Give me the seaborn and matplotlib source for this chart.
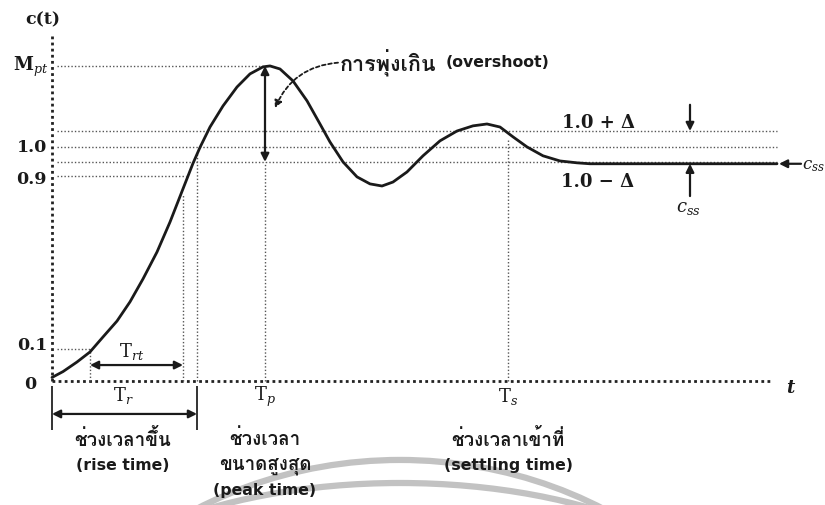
import matplotlib
matplotlib.use("Agg")
import matplotlib.pyplot as plt
from matplotlib import font_manager as fm
from matplotlib.ft2font import FT2Font
from matplotlib.patches import Arc
import seaborn as sns

# ---------------- data ----------------
# time axis in arbitrary units, response c(t) in drawing units (1.0 = "1.0" level)
t_curve = [0, 1.1, 2.5, 3.8, 5.1, 6.5, 7.8, 9.1, 10.5, 11.8, 13.1, 14.1, 14.8,
           15.8, 17.1, 18.5, 19.8, 21.1, 21.8, 22.8, 24.1, 25.5, 26.8, 27.8,
           29.1, 30.5, 31.8, 33.0, 34.1, 35.5, 37.1, 38.8, 40.5, 42.1, 43.5,
           44.8, 46.1, 47.5, 49.1, 50.8, 52.5, 53.8, 72.5]
c_curve = [0.015, 0.040, 0.081, 0.124, 0.188, 0.256, 0.338, 0.436, 0.551, 0.679,
           0.821, 0.930, 0.998, 1.085, 1.175, 1.256, 1.312, 1.342, 1.346, 1.333,
           1.282, 1.197, 1.098, 1.021, 0.936, 0.872, 0.842, 0.833, 0.850, 0.893,
           0.962, 1.026, 1.068, 1.090, 1.098, 1.085, 1.043, 1.0, 0.962, 0.940,
           0.932, 0.928, 0.928]

level_labels = ["0.1", "0.9", "1.0"]
level_values = [0.137, 0.876, 1.0]
m_pt = 1.346             # maximum (peak) value
band_upper = 1.068       # 1.0 + Δ
band_lower = 0.936       # 1.0 - Δ
c_ss = 0.928             # steady-state value

t_01 = 3.8     # crossing of 0.1
t_09 = 13.1    # crossing of 0.9 (end of T_rt)
t_r = 14.5     # rise time
t_p = 21.3     # peak time
t_s = 45.6     # settling time
t_end = 72.5   # end of band lines
t_axis_end = 71.8
y_axis_top = 1.474

# ---------------- fonts ----------------
thai_regular, thai_bold = None, None
for f in fm.fontManager.ttflist:
    try:
        if 0x0E01 in FT2Font(f.fname).get_charmap():
            w = f.weight if isinstance(f.weight, int) else 400
            if w >= 600 and thai_bold is None:
                thai_bold = f.name
            if thai_regular is None:
                thai_regular = f.name
    except Exception:
        pass
thai_family = thai_bold or thai_regular
sns.set_theme(style="white")
plt.rcParams["mathtext.fontset"] = "dejavuserif"
thai_fam = ["DejaVu Sans", thai_family] if thai_family else ["DejaVu Sans"]
serif = "DejaVu Serif"
ink = "#1a1a1a"

# ---------------- figure ----------------
fig = plt.figure(figsize=(8.25, 5.06), dpi=100)
ax = fig.add_axes([0, 0, 1, 1])
ax.set_xlim(-5.2, 77.3)
ax.set_ylim(-0.530, 1.632)
ax.axis("off")

dot = dict(color="#555555", lw=1.0, ls=(0, (1, 1.5)))
axis_dot = dict(color="#222222", lw=2.0, ls=(0, (1, 1.2)))

# faint watermark arcs at the bottom
ax.add_patch(Arc((34.8, -1.842), 80.0, 3.009, theta1=0, theta2=180,
                 color="#c2c2c2", lw=4.5, zorder=0))
ax.add_patch(Arc((34.8, -1.107), 70.0, 1.342, theta1=0, theta2=180,
                 color="#c2c2c2", lw=4.5, zorder=0))

# axes (dotted)
sns.lineplot(x=[0, t_axis_end], y=[0, 0], ax=ax, estimator=None, **axis_dot)
sns.lineplot(x=[0, 0], y=[0, y_axis_top], ax=ax, estimator=None, orient="y", **axis_dot)

# horizontal reference lines
sns.lineplot(x=[0.5, t_p], y=[m_pt, m_pt], ax=ax, estimator=None, **dot)
for yv in (band_upper, level_values[2], band_lower):
    sns.lineplot(x=[0.5, t_end], y=[yv, yv], ax=ax, estimator=None, **dot)
sns.lineplot(x=[0.5, 13.4], y=[level_values[1]] * 2, ax=ax, estimator=None, **dot)
sns.lineplot(x=[0.5, t_01], y=[level_values[0]] * 2, ax=ax, estimator=None, **dot)

# vertical reference lines
vert = dict(color="#555555", lw=1.0, ls=(0, (1, 1.5)))
ax.vlines([t_01], 0, level_values[0], **vert)
ax.vlines([t_09], 0, 0.80, **vert)
ax.vlines([t_r], 0, 0.98, **vert)
ax.vlines([t_p], 0, band_lower, **vert)
ax.vlines([t_s], 0, 1.03, **vert)

# response curve
sns.lineplot(x=t_curve, y=c_curve, ax=ax, estimator=None, sort=False,
             color=ink, lw=2.0)

# ---------------- arrows ----------------
arr2 = dict(arrowstyle="<|-|>", color=ink, lw=1.6, mutation_scale=12,
            shrinkA=0, shrinkB=0)
arr1 = dict(arrowstyle="-|>", color=ink, lw=1.6, mutation_scale=12,
            shrinkA=0, shrinkB=0)
# overshoot
ax.annotate("", xy=(t_p, m_pt), xytext=(t_p, band_lower), arrowprops=arr2)
# T_rt
ax.annotate("", xy=(t_01, 0.068), xytext=(t_09, 0.068), arrowprops=arr2)
# T_r
ax.annotate("", xy=(0, -0.141), xytext=(t_r, -0.141), arrowprops=arr2)
ax.vlines([0, t_r], -0.02, -0.21, color="#333333", lw=1.4)
# band arrows
ax.annotate("", xy=(63.8, band_upper), xytext=(63.8, 1.18), arrowprops=arr1)
ax.annotate("", xy=(63.8, c_ss), xytext=(63.8, 0.79), arrowprops=arr1)
ax.annotate("", xy=(72.7, c_ss), xytext=(74.9, c_ss), arrowprops=arr1)
# curved dashed arrow for overshoot label
ax.annotate("", xy=(22.3, 1.166), xytext=(28.6, 1.36),
            arrowprops=dict(arrowstyle="-|>", color=ink, lw=1.3, ls=(0, (2, 1.5)),
                            mutation_scale=11, shrinkA=0, shrinkB=0,
                            connectionstyle="arc3,rad=0.3"))

# ---------------- text ----------------
num = dict(fontfamily=serif, fontweight="bold", fontsize=12.5, color=ink)
ax.text(-0.9, 1.547, "c(t)", ha="center", va="center", **num)
ax.text(-0.4, m_pt, r"$\mathbf{M}_{pt}$", ha="right", va="center",
        fontsize=13, color=ink)
ax.text(-0.5, level_values[2], level_labels[2], ha="right", va="center", **num)
ax.text(-0.5, level_values[1] - 0.01, level_labels[1], ha="right", va="center", **num)
ax.text(-0.5, level_values[0] + 0.02, level_labels[0], ha="right", va="center", **num)
ax.text(-2.2, -0.013, "0", ha="center", va="center", **num)
ax.text(73.8, -0.026, "t", ha="center", va="center", fontfamily=serif,
        fontweight="bold", fontsize=13, style="italic", color=ink)

sub = dict(fontsize=13, color=ink, ha="center", va="center")
ax.text(8.0, 0.128, r"$\mathrm{T}_{rt}$", **sub)
ax.text(7.1, -0.056, r"$\mathrm{T}_{r}$", **sub)
ax.text(t_p, -0.064, r"$\mathrm{T}_{p}$", **sub)
ax.text(t_s, -0.064, r"$\mathrm{T}_{s}$", **sub)

num13 = {**num, "fontsize": 13}
ax.text(54.6, 1.107, "1.0 + Δ", ha="center", va="center", **num13)
ax.text(54.6, 0.855, "1.0 − Δ", ha="center", va="center", **num13)
ax.text(63.6, 0.745, r"$c_{ss}$", fontsize=13, ha="center", va="center", color=ink)
ax.text(75.0, c_ss, r"$c_{ss}$", fontsize=12, ha="left", va="center", color=ink)

th = dict(family=thai_fam, fontweight="bold", fontsize=13.5, color=ink,
          ha="center", va="center")
en = dict(family="DejaVu Sans", fontweight="bold", fontsize=11.3, color=ink,
          ha="center", va="center")
ax.text(28.8, 1.363, "การพุ่งเกิน", **{**th, "ha": "left", "fontsize": 15.5})
ax.text(39.4, 1.363, "(overshoot)", **{**en, "ha": "left"})
ax.text(7.1, -0.246, "ช่วงเวลาขึ้น", **th)
ax.text(7.1, -0.355, "(rise time)", **en)
ax.text(t_p, -0.246, "ช่วงเวลา", **th)
ax.text(t_p, -0.355, "ขนาดสูงสุด", **th)
ax.text(t_p, -0.462, "(peak time)", **en)
ax.text(t_s, -0.246, "ช่วงเวลาเข้าที่", **th)
ax.text(t_s, -0.355, "(settling time)", **en)

fig.savefig("out.png", dpi=100)
